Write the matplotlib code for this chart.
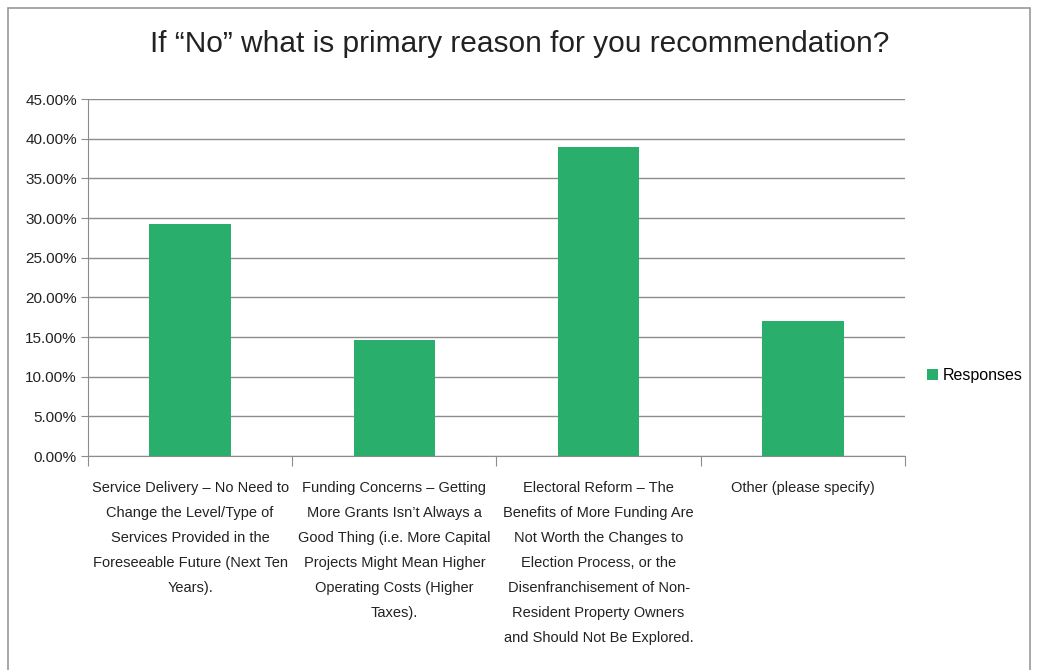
import matplotlib
matplotlib.use("Agg")
import matplotlib.pyplot as plt
from matplotlib.patches import Rectangle
from matplotlib.ticker import FuncFormatter, MultipleLocator

plt.rcParams['font.family'] = ['Liberation Sans Narrow', 'Liberation Sans', 'DejaVu Sans']

# Data
categories = [
    "Service Delivery \u2013 No Need to\nChange the Level/Type of\nServices Provided in the\n"
    "Foreseeable Future (Next Ten\nYears).",
    "Funding Concerns \u2013 Getting\nMore Grants Isn\u2019t Always a\nGood Thing (i.e. More Capital\n"
    "Projects Might Mean Higher\nOperating Costs (Higher\nTaxes).",
    "Electoral Reform \u2013 The\nBenefits of More Funding Are\nNot Worth the Changes to\n"
    "Election Process, or the\nDisenfranchisement of Non-\nResident Property Owners\n"
    "and Should Not Be Explored.",
    "Other (please specify)",
]
responses = [29.27, 14.63, 39.02, 17.07]
title = "If \u201cNo\u201d what is primary reason for you recommendation?"

bar_color = "#2aae6c"
grid_color = "#8c8c8c"

fig = plt.figure(figsize=(10.4, 6.7), dpi=100)
ax = fig.add_axes([0.0846, 0.3194, 0.7856, 0.5326])

x = range(len(categories))
ax.bar(x, responses, width=0.4, color=bar_color, label="Responses", zorder=3)

ax.set_xlim(-0.5, len(categories) - 0.5)
ax.set_ylim(0, 45)
ax.yaxis.set_major_locator(MultipleLocator(5))
ax.yaxis.set_major_formatter(FuncFormatter(lambda v, p: "%.2f%%" % v))
ax.grid(axis="y", color=grid_color, linewidth=1.0, zorder=0)

for side in ["top", "right"]:
    ax.spines[side].set_visible(False)
for side in ["left", "bottom"]:
    ax.spines[side].set_color(grid_color)

# category boundaries as ticks, labels in between
ax.set_xticks([i - 0.5 for i in range(len(categories) + 1)], minor=False)
ax.set_xticklabels([])
ax.tick_params(axis="x", which="major", length=7, color=grid_color, direction="out")
ax.set_xticks(list(x), minor=True)
ax.set_xticklabels(categories, minor=True, fontsize=10.5, linespacing=2.0,
                   ha="center", va="top", color="#222222")
ax.tick_params(axis="x", which="minor", length=0, pad=18)
ax.tick_params(axis="y", length=5, color=grid_color, labelsize=11,
               labelcolor="#222222", pad=3)

fig.suptitle(title, x=0.5, y=0.955, fontsize=21.5, color="#222222")

leg = ax.legend(loc="center left", bbox_to_anchor=(1.027, 0.225), frameon=False,
                fontsize=11.5, handlelength=0.7, handleheight=0.7, handletextpad=0.3,
                borderpad=0, borderaxespad=0)

# outer chart frame
fig.patches.append(Rectangle((0.008, -0.02), 0.982, 1.008, transform=fig.transFigure,
                             fill=False, edgecolor="#999999", linewidth=1.2))

fig.savefig("out.png", dpi=100, facecolor="white")
